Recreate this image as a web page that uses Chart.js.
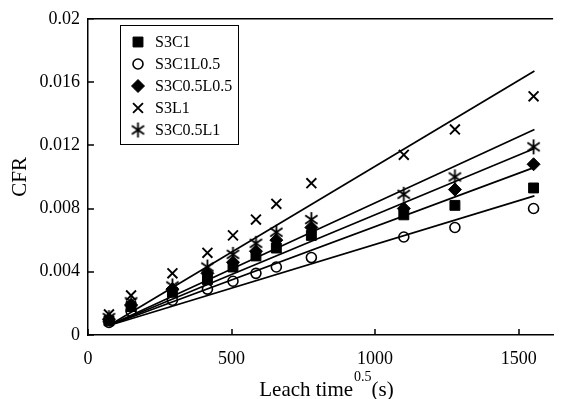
<!DOCTYPE html>
<html>
<head>
<meta charset="utf-8">
<script src="https://cdn.jsdelivr.net/npm/chart.js@4"></script>
<style>
  html, body { margin: 0; padding: 0; background: #fff; }
  #wrap { width: 562px; height: 399px; }
</style>
</head>
<body>
<div id="wrap"><canvas id="cfrChart"></canvas></div>
<script>
// leach time^0.5 (s) at each sampling
const leachTime = [73, 150, 294, 416, 505, 585, 656, 778, 1100, 1278, 1552];

const seriesNames = ['S3C1', 'S3C1L0.5', 'S3C0.5L0.5', 'S3L1', 'S3C0.5L1'];
const cfrS3C1     = [0.0009, 0.0018, 0.0027, 0.0035, 0.0043, 0.0050, 0.0055, 0.0063, 0.0076, 0.0082, 0.0093];
const cfrS3C1L05  = [0.0008, 0.0015, 0.0022, 0.0029, 0.0034, 0.0039, 0.0043, 0.0049, 0.0062, 0.0068, 0.0080];
const cfrS3C05L05 = [0.0010, 0.0019, 0.0029, 0.0039, 0.0046, 0.0053, 0.0060, 0.0068, 0.0080, 0.0092, 0.0108];
const cfrS3L1     = [0.0013, 0.0025, 0.0039, 0.0052, 0.0063, 0.0073, 0.0083, 0.0096, 0.0114, 0.0130, 0.0151];
const cfrS3C05L1  = [0.0011, 0.0021, 0.0031, 0.0043, 0.0051, 0.0058, 0.0065, 0.0073, 0.0089, 0.0100, 0.0119];

// linear trend lines, read at both ends
const trendX     = [73, 1555];
const trendStart = [0.0006, 0.0006, 0.0006, 0.0006, 0.0006];
const trendEnd   = [0.0106, 0.0088, 0.0118, 0.0167, 0.0130];

const xTicks = [0, 500, 1000, 1500];
const yTicks = [0, 0.004, 0.008, 0.012, 0.016, 0.02];

const allValues = [cfrS3C1, cfrS3C1L05, cfrS3C05L05, cfrS3L1, cfrS3C05L1];

// six-armed asterisk marker
function makeAsterisk() {
  const c = document.createElement('canvas');
  c.width = 17; c.height = 17;
  const g = c.getContext('2d');
  g.strokeStyle = '#000';
  g.lineWidth = 1.8;
  g.beginPath();
  [90, 35, 145].forEach(deg => {
    const r = deg * Math.PI / 180;
    const dx = Math.cos(r) * 7.5, dy = Math.sin(r) * 7.5;
    g.moveTo(8.5 - dx, 8.5 - dy);
    g.lineTo(8.5 + dx, 8.5 + dy);
  });
  g.stroke();
  return c;
}

const markers = [
  { pointStyle: 'rect',     pointRadius: 7,   fill: '#000', pointBorderWidth: 1 },
  { pointStyle: 'circle',   pointRadius: 5,   fill: 'rgba(0,0,0,0)', pointBorderWidth: 1.6 },
  { pointStyle: 'rectRot',  pointRadius: 6.5, fill: '#000', pointBorderWidth: 1 },
  { pointStyle: 'crossRot', pointRadius: 7,   fill: '#000', pointBorderWidth: 1.9 },
  { pointStyle: makeAsterisk(), pointRadius: 7, fill: '#000', pointBorderWidth: 1 }
];

const font = 'Liberation Serif';

const pointSets = seriesNames.map((name, i) => ({
  type: 'scatter',
  label: name,
  data: leachTime.map((t, j) => ({ x: t, y: allValues[i][j] })),
  pointStyle: markers[i].pointStyle,
  pointRadius: markers[i].pointRadius,
  pointBorderWidth: markers[i].pointBorderWidth,
  pointBackgroundColor: markers[i].fill,
  pointBorderColor: '#000',
  showLine: false
}));

const trendSets = seriesNames.map((name, i) => ({
  type: 'line',
  label: name + ' fit',
  data: [{ x: trendX[0], y: trendStart[i] }, { x: trendX[1], y: trendEnd[i] }],
  borderColor: '#000',
  borderWidth: 1.7,
  pointRadius: 0,
  fill: false
}));

const framePlugin = {
  id: 'framePlugin',
  afterDraw(chart) {
    const { ctx, chartArea: a, scales: { x, y } } = chart;
    ctx.save();
    ctx.strokeStyle = '#000';
    ctx.lineWidth = 1.5;

    // top border + inward ticks
    ctx.beginPath();
    ctx.moveTo(a.left, a.top);
    ctx.lineTo(a.right, a.top);
    yTicks.forEach(v => {
      const py = Math.round(y.getPixelForValue(v));
      ctx.moveTo(a.left, py);
      ctx.lineTo(a.left + 6, py);
    });
    xTicks.forEach(v => {
      const px = Math.round(x.getPixelForValue(v));
      ctx.moveTo(px, a.bottom);
      ctx.lineTo(px, a.bottom - 6);
    });
    ctx.stroke();

    // axis titles
    ctx.fillStyle = '#000';
    ctx.textAlign = 'left';
    ctx.textBaseline = 'alphabetic';
    const mainFont = '21px "' + font + '"';
    const supFont = '14px "' + font + '"';
    ctx.font = mainFont;
    const w1 = ctx.measureText('Leach time').width;
    const w3 = ctx.measureText('(s)').width;
    ctx.font = supFont;
    const w2 = ctx.measureText('0.5').width;
    const tx = 327 - (w1 + w2 + w3 + 2) / 2;
    ctx.font = mainFont;
    ctx.fillText('Leach time', tx, 396);
    ctx.font = supFont;
    ctx.fillText('0.5', tx + w1 + 1, 381);
    ctx.font = mainFont;
    ctx.fillText('(s)', tx + w1 + w2 + 1, 396);

    ctx.save();
    ctx.translate(20, (a.top + a.bottom) / 2);
    ctx.rotate(-Math.PI / 2);
    ctx.textAlign = 'center';
    ctx.textBaseline = 'middle';
    ctx.fillText('CFR', 0, 0);
    ctx.restore();

    // legend box
    const box = { left: 120, top: 25, width: 118, height: 119 };
    ctx.fillStyle = '#fff';
    ctx.fillRect(box.left, box.top, box.width, box.height);
    ctx.lineWidth = 1;
    ctx.strokeStyle = '#000';
    ctx.strokeRect(box.left + 0.5, box.top + 0.5, box.width, box.height);
    ctx.font = '16px "' + font + '"';
    ctx.textAlign = 'left';
    ctx.textBaseline = 'middle';
    seriesNames.forEach((name, i) => {
      const ly = 42 + i * 22;
      const m = markers[i];
      ctx.fillStyle = m.fill;
      ctx.strokeStyle = '#000';
      ctx.lineWidth = m.pointBorderWidth;
      Chart.helpers.drawPoint(ctx, {
        pointStyle: m.pointStyle,
        radius: m.pointRadius,
        borderWidth: m.pointBorderWidth,
        rotation: 0
      }, 138, ly);
      ctx.fillStyle = '#000';
      ctx.fillText(name, 155, ly + 1);
    });
    ctx.restore();
  }
};

const ctxCfr = document.getElementById('cfrChart').getContext('2d');
new Chart(ctxCfr, {
  type: 'scatter',
  data: { datasets: [...pointSets, ...trendSets] },
  options: {
    responsive: true,
    maintainAspectRatio: false,
    animation: false,
    layout: { padding: { top: 16, right: 0, left: 0, bottom: 0 } },
    plugins: {
      legend: { display: false },
      tooltip: { enabled: false }
    },
    scales: {
      x: {
        type: 'linear',
        min: 0,
        max: 1620,
        afterBuildTicks: s => { s.ticks = xTicks.map(v => ({ value: v })); },
        afterFit: s => { s.height = 64; },
        grid: { drawOnChartArea: false, drawTicks: false },
        border: { color: '#000', width: 1.5 },
        ticks: {
          color: '#000',
          padding: 13,
          maxRotation: 0,
          font: { family: font, size: 18 },
          callback: v => String(v)
        }
      },
      y: {
        type: 'linear',
        min: 0,
        max: 0.02,
        afterBuildTicks: s => { s.ticks = yTicks.map(v => ({ value: v })); },
        afterFit: s => { s.width = 88; },
        grid: { drawOnChartArea: false, drawTicks: false },
        border: { color: '#000', width: 1.5 },
        ticks: {
          color: '#000',
          padding: 8,
          font: { family: font, size: 18 },
          callback: v => String(Number(v.toFixed(3)))
        }
      }
    }
  },
  plugins: [framePlugin]
});
</script>
</body>
</html>
